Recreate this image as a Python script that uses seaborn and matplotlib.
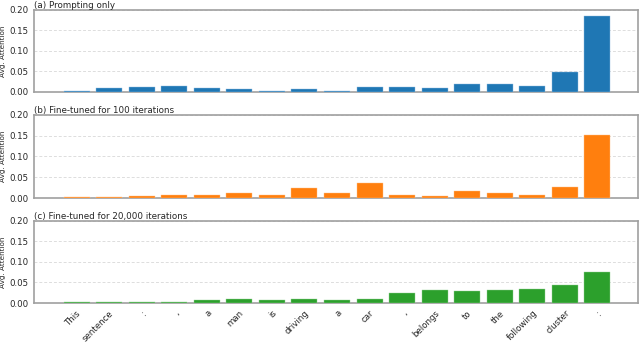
import numpy as np
import pandas as pd
import matplotlib
matplotlib.use("Agg")
import matplotlib.pyplot as plt
import seaborn as sns

# tokens of the prompt
tokens = ["This", "sentence", ":", ",", "a", "man", "is", "driving", "a", "car",
          ",", "belongs", "to", "the", "following", "cluster", ":"]

# average attention per token
prompting_only = [0.0024, 0.0089, 0.012, 0.0137, 0.0097, 0.0065, 0.0024, 0.0065, 0.003,
                  0.012, 0.011, 0.009, 0.019, 0.019, 0.0145, 0.049, 0.184]
finetuned_100 = [0.0016, 0.0024, 0.004, 0.0065, 0.007, 0.012, 0.0065, 0.024, 0.013,
                 0.036, 0.0065, 0.004, 0.016, 0.013, 0.008, 0.0266, 0.152]
finetuned_20000 = [0.003, 0.003, 0.003, 0.003, 0.0065, 0.0097, 0.008, 0.009, 0.0065,
                   0.0097, 0.024, 0.031, 0.029, 0.0306, 0.033, 0.044, 0.075]

titles = ["(a) Prompting only", "(b) Fine-tuned for 100 iterations",
          "(c) Fine-tuned for 20,000 iterations"]
colors = ["#1f77b4", "#ff7f0e", "#2ca02c"]
edges = ["#8fbbe0", "#ffbf86", "#95d095"]

sns.set_style("white")
plt.rcParams['font.family'] = ['DejaVu Sans']

fig = plt.figure(figsize=(6.4, 3.42), dpi=100)
boxes = [(0.731, 0.971), (0.421, 0.664), (0.114, 0.354)]
series = [prompting_only, finetuned_100, finetuned_20000]

for i, (vals, (b, t)) in enumerate(zip(series, boxes)):
    ax = fig.add_axes([0.053, b, 0.944, t - b])
    df = pd.DataFrame({"pos": np.arange(len(tokens)), "val": vals})
    sns.barplot(data=df, x="pos", y="val", color=colors[i], width=0.8,
                edgecolor=edges[i], linewidth=0.3, saturation=1, ax=ax, zorder=3)
    ax.set_xlim(-1.31, 17.25)
    ax.set_ylim(0, 0.2)
    ax.set_yticks([0, 0.05, 0.10, 0.15, 0.20])
    ax.set_yticklabels(["0.00", "0.05", "0.10", "0.15", "0.20"], fontsize=6.2)
    ax.yaxis.grid(True, linestyle=(0, (3, 2)), color="#dddddd", linewidth=0.7, zorder=0)
    ax.set_ylabel("Avg. Attention", fontsize=5.2, labelpad=2.5)
    ax.set_xlabel("")
    ax.set_title(titles[i], loc="left", fontsize=6.3, pad=1.5)
    for s in ax.spines.values():
        s.set_color("#a0a0a0")
        s.set_linewidth(1.2)
    ax.tick_params(axis="both", length=2.5, width=0.8, color="#555555", pad=1.5)
    ax.set_xticks(np.arange(len(tokens)))
    if i == 2:
        ax.set_xticklabels(tokens, rotation=45, ha="right", rotation_mode="anchor", fontsize=6.2)
    else:
        ax.set_xticklabels([])

fig.savefig("out.png", dpi=100)
